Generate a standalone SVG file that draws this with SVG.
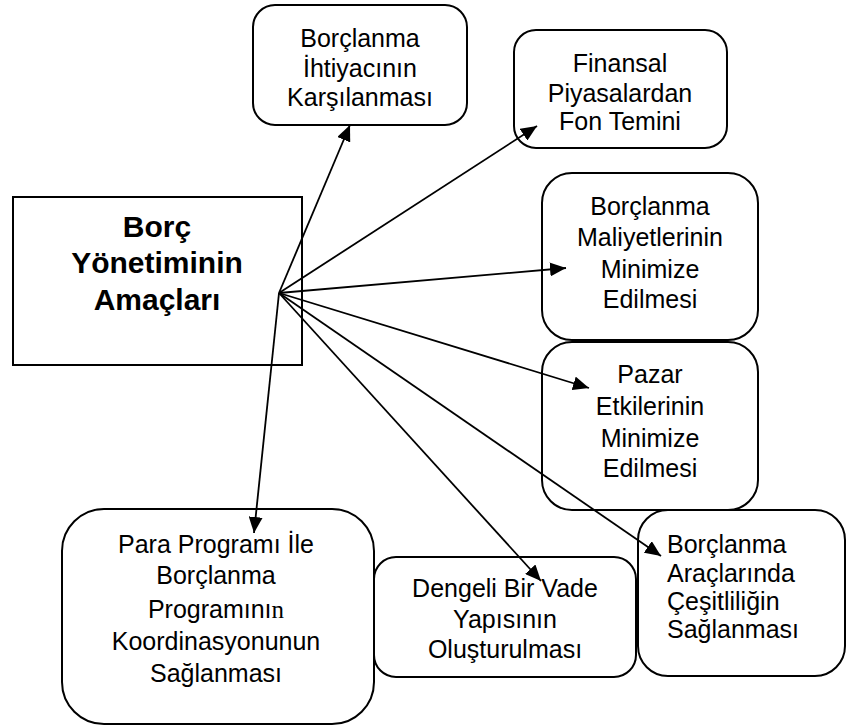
<svg xmlns="http://www.w3.org/2000/svg" width="847" height="727" viewBox="0 0 847 727">
<style>
.box{fill:#fff;stroke:#000;stroke-width:2}
.t{font-family:"Liberation Sans",Arial,sans-serif;font-size:25px;fill:#000;text-anchor:middle}
.tl{font-family:"Liberation Sans",Arial,sans-serif;font-size:25px;fill:#000;text-anchor:start}
.title{font-family:"Liberation Sans",Arial,sans-serif;font-size:30px;font-weight:bold;fill:#000;text-anchor:middle}
.c{stroke:#000;stroke-width:1.8;fill:none;marker-end:url(#ah)}
</style>
<defs>
<marker id="ah" markerUnits="userSpaceOnUse" markerWidth="16" markerHeight="14" refX="16" refY="7" orient="auto">
<path d="M0,0 L16,7 L0,14 z" fill="#000"/>
</marker>
</defs>
<rect width="847" height="727" fill="#fff"/>
<g id="main">
<rect class="box" x="13" y="197" width="289" height="168"/>
<text class="title" x="157" y="237">Borç</text>
<text class="title" x="157" y="273">Yönetiminin</text>
<text class="title" x="157" y="310">Amaçları</text>
</g>
<g id="n1">
<rect class="box" x="253" y="5" width="214" height="120" rx="22"/>
<text class="t" x="360" y="47">Borçlanma</text>
<text class="t" x="360" y="77">İhtiyacının</text>
<text class="t" x="360" y="106">Karşılanması</text>
</g>
<g id="n2">
<rect class="box" x="514" y="30" width="213" height="118" rx="22"/>
<text class="t" x="620" y="72">Finansal</text>
<text class="t" x="620" y="102">Piyasalardan</text>
<text class="t" x="620" y="130">Fon Temini</text>
</g>
<g id="n3">
<rect class="box" x="542" y="173" width="216" height="167" rx="30"/>
<text class="t" x="650" y="215">Borçlanma</text>
<text class="t" x="650" y="246">Maliyetlerinin</text>
<text class="t" x="650" y="278">Minimize</text>
<text class="t" x="650" y="308">Edilmesi</text>
</g>
<g id="n4">
<rect class="box" x="542" y="342" width="216" height="168" rx="30"/>
<text class="t" x="650" y="383">Pazar</text>
<text class="t" x="650" y="415">Etkilerinin</text>
<text class="t" x="650" y="447">Minimize</text>
<text class="t" x="650" y="477">Edilmesi</text>
</g>
<g id="n5">
<rect class="box" x="62" y="509" width="312" height="215" rx="42"/>
<text class="t" x="216" y="553">Para Programı İle</text>
<text class="t" x="216" y="584">Borçlanma</text>
<text class="t" x="216" y="618">Programını<tspan style="font-family:'Liberation Serif','Times New Roman',serif">n</tspan></text>
<text class="t" x="216" y="650">Koordinasyonunun</text>
<text class="t" x="216" y="682">Sağlanması</text>
</g>
<g id="n6">
<rect class="box" x="374" y="557" width="262" height="120" rx="22"/>
<text class="t" x="505" y="597">Dengeli Bir Vade</text>
<text class="t" x="505" y="628">Yapısının</text>
<text class="t" x="505" y="658">Oluşturulması</text>
</g>
<g id="n7">
<rect class="box" x="638" y="510" width="207" height="166" rx="30"/>
<text class="tl" x="667" y="553">Borçlanma</text>
<text class="tl" x="667" y="582">Araçlarında</text>
<text class="tl" x="667" y="610">Çeşitliliğin</text>
<text class="tl" x="667" y="638">Sağlanması</text>
</g>
<g id="connectors">
<line class="c" x1="279" y1="293" x2="350" y2="125"/>
<line class="c" x1="279" y1="293" x2="537" y2="126"/>
<line class="c" x1="279" y1="293" x2="566" y2="268"/>
<line class="c" x1="279" y1="293" x2="589" y2="388"/>
<line class="c" x1="279" y1="293" x2="661" y2="556"/>
<line class="c" x1="279" y1="293" x2="541" y2="581"/>
<line class="c" x1="279" y1="293" x2="254" y2="533"/>
</g>
</svg>
